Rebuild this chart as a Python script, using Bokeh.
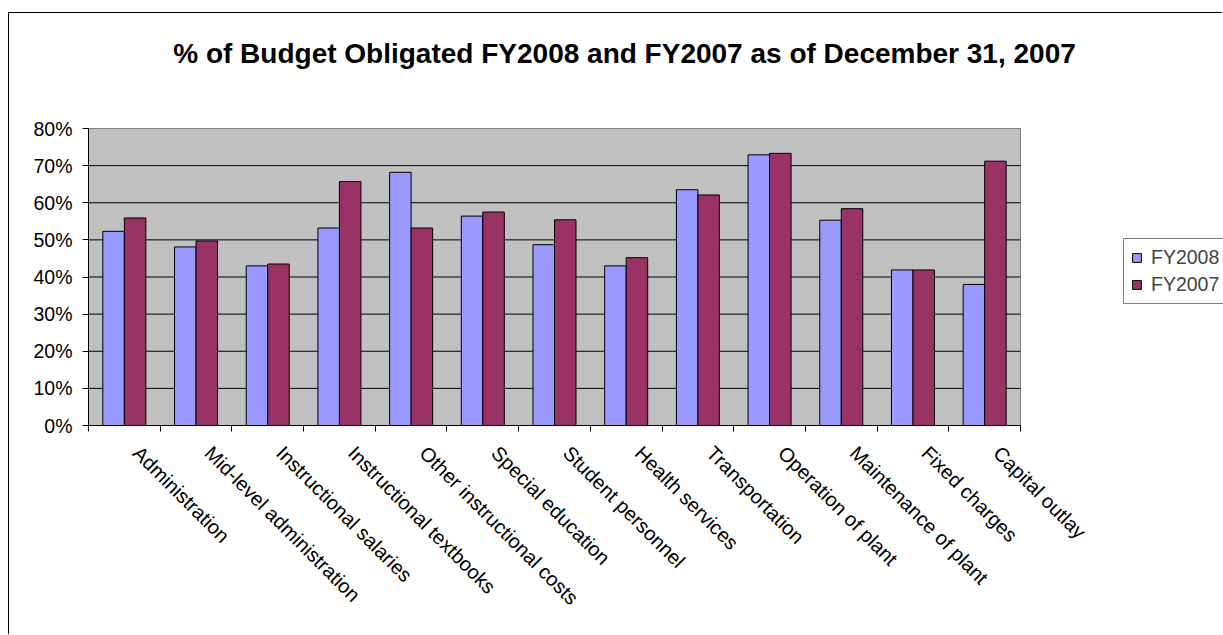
import math
from bokeh.plotting import figure
from bokeh.models import (Range1d, LinearAxis, FixedTicker, PrintfTickFormatter, Legend,
                          LegendItem, Label, ColumnDataSource)
from bokeh.transform import dodge
from bokeh.embed import file_html
from bokeh.resources import INLINE

# ---- data ----
categories = ["Administration", "Mid-level administration", "Instructional salaries",
              "Instructional textbooks", "Other instructional costs", "Special education",
              "Student personnel", "Health services", "Transportation", "Operation of plant",
              "Maintenance of plant", "Fixed charges", "Capital outlay"]
fy2008 = [52.3, 48.1, 43.0, 53.2, 68.2, 56.4, 48.7, 43.0, 63.5, 72.9, 55.3, 41.9, 38.0]
fy2007 = [55.9, 49.7, 43.5, 65.7, 53.2, 57.5, 55.4, 45.2, 62.1, 73.3, 58.4, 41.9, 71.2]
y_ticks = [0, 10, 20, 30, 40, 50, 60, 70, 80]
series_names = ["FY2008", "FY2007"]
title_text = "% of Budget Obligated FY2008 and FY2007 as of December 31, 2007"

# ---- layout constants (pixels) ----
FONT = "Liberation Sans"
W, H = 1214, 622                 # canvas
LEFT, BOTTOM = 79, 210           # space for the axes
AREA_W, AREA_H = 932, 297        # grey plot area inside the (larger) frame
LABEL_SHIFT = 0.17               # label anchor shift, category units

n = len(categories)
centers = [i + 0.5 for i in range(n)]
boundaries = list(range(n + 1))
y_lo, y_hi = y_ticks[0], y_ticks[-1]
x_end = n * (W - LEFT) / AREA_W
y_end = y_lo + (y_hi - y_lo) * (H - BOTTOM) / AREA_H

src = ColumnDataSource(dict(idx=centers, cat=categories, fy2008=fy2008, fy2007=fy2007))
grid_src = ColumnDataSource(dict(y=y_ticks[1:-1]))

p = figure(x_range=Range1d(0, x_end), y_range=Range1d(y_lo, y_end),
           width=W, height=H, output_backend="svg", toolbar_location=None,
           x_axis_location=None, y_axis_location="left", title=None,
           min_border_left=LEFT, min_border_right=0, min_border_top=0,
           min_border_bottom=BOTTOM)
p.styles = {"border-left": "1px solid #000000", "border-top": "1px solid #000000",
            "margin-top": "12px", "margin-left": "8px"}
p.background_fill_color = "white"
p.border_fill_color = "white"
p.outline_line_color = None
p.xgrid.visible = False
p.ygrid.visible = False

# grey plot area + gridlines
p.quad(left=0, right=n, bottom=y_lo, top=y_hi, fill_color="#C0C0C0",
       line_color="#808080", line_width=1)
p.segment(x0=0, x1=n, y0="y", y1="y", source=grid_src, line_color="#000000", line_width=1)

# y axis
p.yaxis.ticker = FixedTicker(ticks=y_ticks)
p.yaxis.bounds = (y_lo, y_hi)
p.yaxis.formatter = PrintfTickFormatter(format="%d%%")
p.yaxis.major_tick_in = 0
p.yaxis.major_tick_out = 6
p.yaxis.minor_tick_line_color = None
p.yaxis.axis_line_color = "#000000"
p.yaxis.major_tick_line_color = "#000000"
p.yaxis.major_label_standoff = 10
p.yaxis.major_label_text_font = FONT
p.yaxis.major_label_text_font_size = "19.5px"
p.yaxis.major_label_text_color = "#000000"

# x axis: minor ticks at category boundaries, labels at category centres
label_pos = [c + LABEL_SHIFT for c in centers]
xaxis = LinearAxis(ticker=FixedTicker(ticks=label_pos, minor_ticks=boundaries),
                   bounds=(0, n),
                   major_label_overrides={lp: name for lp, name in zip(label_pos, categories)},
                   major_tick_line_color=None, major_tick_in=0, major_tick_out=0,
                   minor_tick_line_color="#000000", minor_tick_in=0, minor_tick_out=6,
                   axis_line_color="#000000",
                   major_label_orientation=-math.pi / 4,
                   major_label_standoff=18,
                   major_label_text_font=FONT,
                   major_label_text_font_size="20px",
                   major_label_text_color="#000000")
p.add_layout(xaxis, "below")

r1 = p.vbar(x=dodge("idx", -0.15), top="fy2008", width=0.3, source=src,
            fill_color="#9999FF", line_color="#000000", line_width=1)
r2 = p.vbar(x=dodge("idx", 0.15), top="fy2007", width=0.3, source=src,
            fill_color="#993366", line_color="#000000", line_width=1)

legend = Legend(items=[LegendItem(label=series_names[0], renderers=[r1]),
                       LegendItem(label=series_names[1], renderers=[r2])],
                location=(1035, 121), orientation="vertical",
                border_line_color="#000000", border_line_width=1,
                background_fill_color="white", background_fill_alpha=1,
                padding=7, spacing=4, margin=0,
                glyph_width=11, glyph_height=11, label_standoff=9,
                label_text_font=FONT, label_text_font_size="19.5px", label_height=20)
p.add_layout(legend)

title = Label(x=536, y=372, x_units="screen", y_units="screen", text=title_text,
              text_align="center", text_baseline="alphabetic",
              text_font=FONT, text_font_style="bold", text_font_size="28px",
              text_color="#000000")
p.add_layout(title)

open("out.html", "w").write(file_html(p, INLINE))
